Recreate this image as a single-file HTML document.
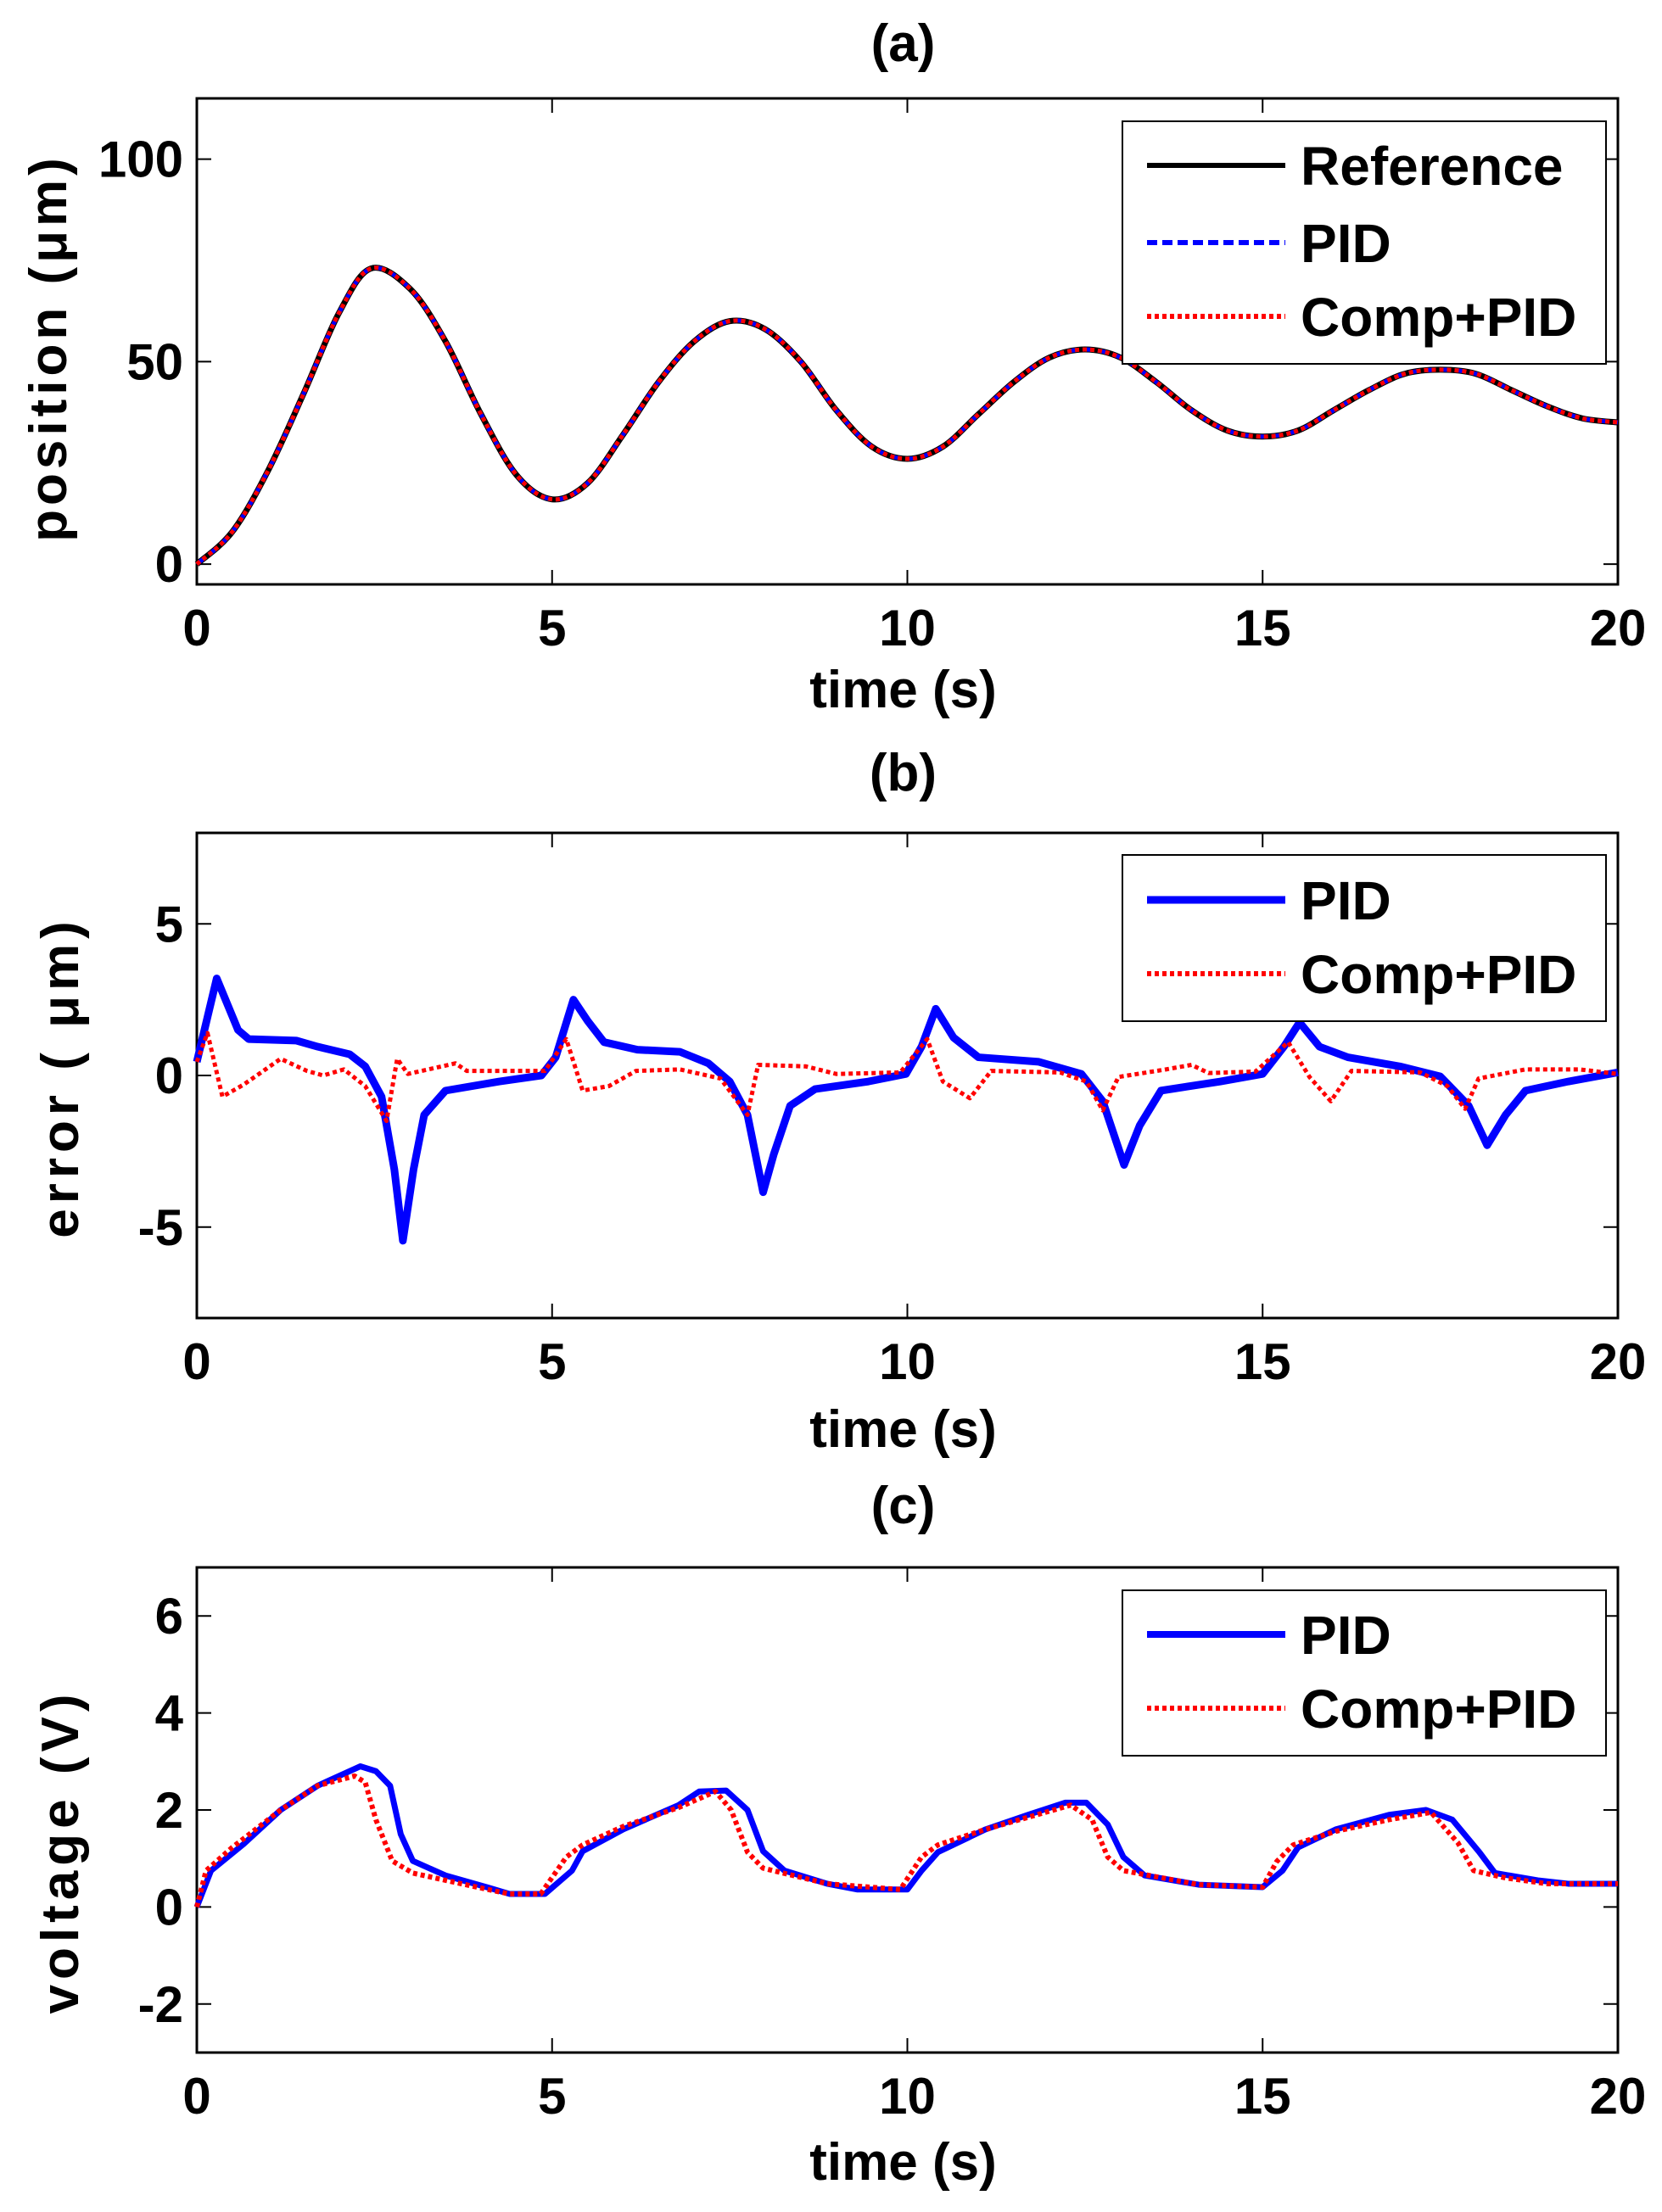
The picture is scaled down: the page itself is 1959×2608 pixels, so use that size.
<!DOCTYPE html>
<html><head><meta charset="utf-8"><style>
html,body{margin:0;padding:0;background:#fff;}
svg{display:block;font-family:"Liberation Sans",Arial,sans-serif;font-weight:bold;}
</style></head><body>
<svg id="fig" width="1959" height="2608" viewBox="0 0 1959 2608" xmlns="http://www.w3.org/2000/svg"></svg>
<script>
// ---- Panel (a) data ----
const timesA = [0,0.5,1,1.5,2,2.45,3,3.5,4,4.5,5,5.5,6,6.5,7,7.5,8,8.5,9,9.5,10,10.5,11,11.5,12,12.5,13,13.5,14,14.5,15,15.5,16,16.5,17,17.5,18,18.5,19,19.5,20];
const refA  = [0,8,23,42,62,73,68,55,37,22,16,20,32,45,55,60,58,50,38,29,26,29,37,45,51,53,51,45,38,33,31.5,33,38,43,47,48,47,43,39,36,35];
const pidA  = [0,8,23,42,62,73,68,55,37,22,16,20,32,45,55,60,58,50,38,29,26,29,37,45,51,53,51,45,38,33,31.5,33,38,43,47,48,47,43,39,36,35];
const compA = [0,8,23,42,62,73,68,55,37,22,16,20,32,45,55,60,58,50,38,29,26,29,37,45,51,53,51,45,38,33,31.5,33,38,43,47,48,47,43,39,36,35];
// ---- Panel (b) data ----
const timesPidB = [0,0.28,0.58,0.73,1.4,1.7,2.15,2.37,2.6,2.78,2.9,3.05,3.2,3.5,4.25,4.85,5.05,5.3,5.5,5.73,6.2,6.8,7.2,7.5,7.75,7.97,8.12,8.35,8.7,9.45,9.98,10.2,10.4,10.65,11.0,11.85,12.45,12.75,13.05,13.27,13.57,14.4,15.0,15.3,15.52,15.8,16.2,16.93,17.5,17.9,18.16,18.42,18.7,19.3,20];
const pidB = [0.45,3.2,1.5,1.2,1.15,0.95,0.7,0.3,-0.7,-3.1,-5.45,-3.1,-1.3,-0.5,-0.2,0,0.6,2.5,1.8,1.1,0.85,0.78,0.4,-0.2,-1.3,-3.85,-2.6,-1,-0.45,-0.2,0.05,0.95,2.2,1.25,0.6,0.45,0.05,-0.85,-2.95,-1.65,-0.5,-0.2,0.05,0.95,1.75,0.95,0.6,0.3,-0.03,-1.0,-2.3,-1.3,-0.5,-0.2,0.1];
const timesCompB = [0,0.15,0.36,0.66,1.18,1.55,1.78,2.07,2.37,2.67,2.82,2.97,3.64,3.8,4.9,5.2,5.43,5.8,6.18,6.8,7.37,7.75,7.9,8.57,9.0,9.9,10.28,10.5,10.88,11.18,12.15,12.52,12.75,12.97,13.64,14.0,14.24,14.9,15.36,15.66,15.96,16.25,17.22,17.6,17.85,18.04,18.7,19.46,20];
const compB = [0.45,1.4,-0.7,-0.3,0.55,0.15,0,0.2,-0.35,-1.5,0.55,0.05,0.4,0.15,0.15,1.2,-0.5,-0.35,0.15,0.2,-0.1,-1.3,0.35,0.3,0.05,0.1,1.2,-0.2,-0.75,0.15,0.1,-0.2,-1.15,-0.05,0.2,0.35,0.08,0.13,1.1,-0.05,-0.85,0.15,0.1,-0.35,-1.1,-0.1,0.2,0.2,0.05];
// ---- Panel (c) data ----
const timesPidC = [0,0.2,0.66,1.18,1.7,2.3,2.52,2.72,2.87,3.04,3.5,4.1,4.4,4.9,5.28,5.43,6.0,6.78,7.07,7.45,7.75,7.97,8.27,8.87,9.3,10.0,10.2,10.43,11.1,11.7,12.22,12.52,12.82,13.04,13.34,14.1,15.0,15.28,15.5,16.03,16.78,17.3,17.67,18.05,18.27,18.87,19.3,20];
const pidC = [0,0.75,1.3,2.0,2.5,2.9,2.8,2.5,1.5,0.95,0.65,0.4,0.27,0.27,0.75,1.15,1.6,2.1,2.38,2.4,2.0,1.15,0.75,0.48,0.36,0.36,0.75,1.13,1.6,1.9,2.15,2.15,1.7,1.03,0.65,0.46,0.41,0.75,1.23,1.6,1.9,2.0,1.8,1.13,0.7,0.55,0.48,0.48];
const timesCompC = [0,0.13,0.5,1.18,1.7,2.22,2.37,2.52,2.75,3.04,3.5,4.1,4.4,4.84,5.2,5.43,6.0,6.78,7.3,7.52,7.75,7.97,8.87,9.9,10.2,10.43,11.1,12.3,12.6,12.82,13.04,14.1,15.0,15.2,15.43,16.03,16.78,17.37,17.75,17.97,18.42,19.0,20];
const compC = [0,0.75,1.23,2.0,2.5,2.7,2.57,1.8,0.95,0.7,0.55,0.36,0.27,0.27,1.03,1.28,1.66,2.05,2.38,2.0,1.13,0.8,0.48,0.36,1.03,1.28,1.6,2.1,1.8,1.03,0.75,0.46,0.41,0.94,1.28,1.56,1.8,1.95,1.32,0.75,0.6,0.48,0.48];
const xTicks = [0,5,10,15,20];
const yTicksA = [0,50,100];
const yTicksB = [-5,0,5];
const yTicksC = [-2,0,2,4,6];

const NS = "http://www.w3.org/2000/svg";
const svg = document.getElementById('fig');
function mk(tag, attrs, parent, text){
  const e = document.createElementNS(NS, tag);
  for (const k in attrs) e.setAttribute(k, attrs[k]);
  if (text !== undefined) e.textContent = text;
  (parent||svg).appendChild(e);
  return e;
}
const X0 = 232, X1 = 1907;
function panel(cfg){
  const g = mk('g', {});
  
  
  const sx = t => X0 + (t - 0) / 20 * (X1 - X0);
  const sy = v => cfg.top + (cfg.ymax - v) / (cfg.ymax - cfg.ymin) * (cfg.bot - cfg.top);
  const ti = mk('text', {x: (X0+X1)/2 - 5, y: cfg.titleY, 'font-size': 62, 'text-anchor':'middle'}, g, cfg.title);
  
  
  const box = mk('rect', {x: X0, y: cfg.top, width: X1-X0, height: cfg.bot-cfg.top, fill:'none', stroke:'#000', 'stroke-width':3}, g);
  
  
  xTicks.forEach(t => {
    const x = sx(t);
    mk('line', {x1:x, x2:x, y1:cfg.bot, y2:cfg.bot-17, stroke:'#000','stroke-width':2}, g);
    mk('line', {x1:x, x2:x, y1:cfg.top, y2:cfg.top+17, stroke:'#000','stroke-width':2}, g);
    const lab = mk('text', {x:x, y:cfg.bot+72, 'font-size':60, 'text-anchor':'middle'}, g, String(t));
    
    
  });
  cfg.yTicks.forEach(v => {
    const y = sy(v);
    mk('line', {x1:X0, x2:X0+17, y1:y, y2:y, stroke:'#000','stroke-width':2}, g);
    mk('line', {x1:X1, x2:X1-17, y1:y, y2:y, stroke:'#000','stroke-width':2}, g);
    const lab = mk('text', {x:216, y:y+21, 'font-size':60, 'text-anchor':'end'}, g, String(v));
    
    
  });
  const xl = mk('text', {x:(X0+X1)/2 - 5, y:cfg.xlabY, 'font-size':62, 'text-anchor':'middle'}, g, 'time (s)');
  
  
  const yl = mk('text', {x:0, y:0, 'font-size':62, 'letter-spacing':cfg.ls, 'text-anchor':'middle', transform:`translate(${cfg.ylabX},${cfg.ylabCy}) rotate(-90)`}, g, cfg.ylabel);
  
  
  cfg.series.forEach(s => {
    let d;
    if (s.smooth) {
      const P = s.t.map((t,i)=>[sx(t), sy(s.v[i])]);
      d = 'M' + P[0][0] + ',' + P[0][1];
      for (let i=0;i<P.length-1;i++){
        const p0=P[Math.max(0,i-1)], p1=P[i], p2=P[i+1], p3=P[Math.min(P.length-1,i+2)];
        const c1=[p1[0]+(p2[0]-p0[0])/6, p1[1]+(p2[1]-p0[1])/6];
        const c2=[p2[0]-(p3[0]-p1[0])/6, p2[1]-(p3[1]-p1[1])/6];
        d += ` C${c1[0]},${c1[1]} ${c2[0]},${c2[1]} ${p2[0]},${p2[1]}`;
      }
    } else {
      d = s.t.map((t,i)=>(i?'L':'M') + sx(t) + ',' + sy(s.v[i])).join(' ');
    }
    const p = mk('path', {d:d, fill:'none', stroke:s.color, 'stroke-width':s.w, 'stroke-dasharray':s.dash||'none', 'stroke-linejoin':'round'}, g);
    
    
  });
  const L = cfg.legend;
  const lg = mk('g', {}, g);
  
  
  mk('rect', {x:1323, y:L.top, width:570, height:L.bot-L.top, fill:'#fff', stroke:'#000', 'stroke-width':2}, lg);
  L.items.forEach(it => {
    const e = mk('g', {}, lg);
    
    
    mk('line', {x1:1352, x2:1515, y1:it.y, y2:it.y, stroke:it.color, 'stroke-width':it.w, 'stroke-dasharray':it.dash||'none'}, e);
    mk('text', {x:1533, y:it.y+23, 'font-size':64}, e, it.label);
  });
}
panel({key:'a', title:'(a)', titleY:72, top:116, bot:689, ymin:-5, ymax:115, yTicks:yTicksA,
  xlabY:834, ylabX:78, ylabCy:410, ls:5, ylabel:'position (\u03bcm)',
  series:[
    {name:'reference', t:timesA, v:refA, color:'#000', w:7, smooth:true},
    {name:'pid', t:timesA, v:pidA, color:'#0000ff', w:5, dash:'12,6', smooth:true},
    {name:'comp-pid', t:timesA, v:compA, color:'#ff0000', w:5, dash:'5,4', smooth:true}],
  legend:{top:143, bot:429, items:[
    {label:'Reference', y:195, color:'#000', w:6},
    {label:'PID', y:286, color:'#0000ff', w:6, dash:'12,6'},
    {label:'Comp+PID', y:373, color:'#ff0000', w:6, dash:'5,4'}]}
});
panel({key:'b', title:'(b)', titleY:932, top:982, bot:1554, ymin:-8, ymax:8, yTicks:yTicksB,
  xlabY:1706, ylabX:92, ylabCy:1270, ls:6, ylabel:'error ( \u03bcm)',
  series:[
    {name:'pid', t:timesPidB, v:pidB, color:'#0000ff', w:9},
    {name:'comp-pid', t:timesCompB, v:compB, color:'#ff0000', w:5, dash:'5,4'}],
  legend:{top:1008, bot:1204, items:[
    {label:'PID', y:1061, color:'#0000ff', w:9},
    {label:'Comp+PID', y:1148, color:'#ff0000', w:6, dash:'5,4'}]}
});
panel({key:'c', title:'(c)', titleY:1796, top:1848, bot:2420, ymin:-3, ymax:7, yTicks:yTicksC,
  xlabY:2570, ylabX:92, ylabCy:2183, ls:6, ylabel:'voltage (V)',
  series:[
    {name:'pid', t:timesPidC, v:pidC, color:'#0000ff', w:7},
    {name:'comp-pid', t:timesCompC, v:compC, color:'#ff0000', w:6, dash:'5,4'}],
  legend:{top:1875, bot:2070, items:[
    {label:'PID', y:1927, color:'#0000ff', w:8},
    {label:'Comp+PID', y:2014, color:'#ff0000', w:6, dash:'5,4'}]}
});
</script>
</body></html>
